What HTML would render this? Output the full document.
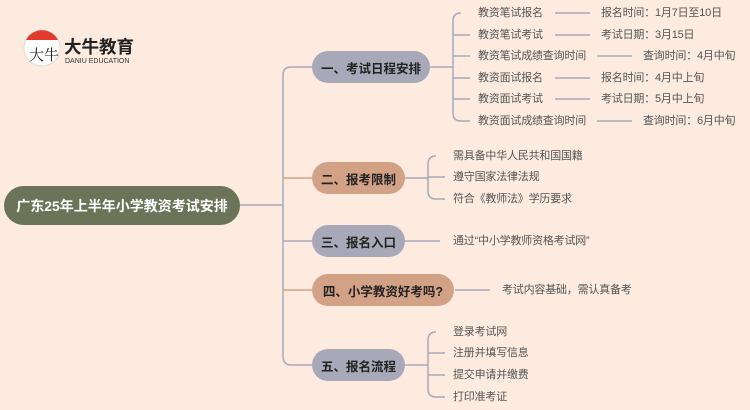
<!DOCTYPE html>
<html><head><meta charset="utf-8"><style>
body{margin:0;width:750px;height:410px;overflow:hidden;background:#fdebdf;font-family:"Liberation Sans","Noto Sans CJK SC",sans-serif}
svg{position:absolute;left:0;top:0}
.n{position:absolute;border-radius:17px;font-weight:bold;font-size:12.5px;color:#222;display:flex;align-items:center;justify-content:center}
.t{position:absolute;font-size:11px;letter-spacing:-0.2px;color:#555;line-height:14px;white-space:nowrap}
</style></head><body>
<svg width="750" height="410">
<g fill="none" stroke-width="1.5">
<path d="M240 205H283" stroke="#a9a9bb"/>
<path d="M283 75Q283 67 291 67H312" stroke="#a9a9bb"/>
<path d="M283 75V356Q283 365 291 365H312" stroke="#a9a9bb"/>
<path d="M283 178H312" stroke="#d3a287"/>
<path d="M283 241H312" stroke="#a9a9bb"/>
<path d="M283 290H312" stroke="#d3a287"/>
<g stroke="#a9a9bb">
<path d="M430 67H453M461 13Q453 13 453 21V113Q453 121 461 121H470M453 35H470M453 56H470M453 78H470M453 99H470"/>
<path d="M555 13H590M555 35H590M555 78H590M555 99H590M597 56H632M597 121H632"/>
<path d="M405 178H428M436 156Q428 156 428 164V191Q428 199 436 199H445M428 177H445"/>
<path d="M405 241H440"/>
<path d="M455 290H490"/>
<path d="M405 365H428M436 332Q428 332 428 340V389Q428 397 436 397H445M428 353H445M428 375H445"/>
</g></g>
<circle cx="42" cy="48" r="18" fill="#fff" stroke="#ddd"/>
<path d="M26 40A18 18 0 0 1 58 40Z" fill="#e23b2e"/>
<text x="29" y="60" font-size="15" font-family="Liberation Serif,Noto Serif CJK SC,serif" fill="#222">大牛</text>
<text x="64" y="53" font-size="17.5" font-weight="bold" fill="#222" font-family="Liberation Sans,Noto Sans CJK SC,sans-serif">大牛教育</text>
<text x="65" y="63" font-size="7" fill="#333" font-family="Liberation Sans,sans-serif">DANIU EDUCATION</text>
</svg>
<div class="n" style="left:4px;top:186px;width:236px;height:39px;border-radius:20px;background:#6b7459;color:#fff;font-size:14px">广东25年上半年小学教资考试安排</div>
<div class="n" style="left:312px;top:51px;width:118px;height:32px;background:#a8a8b9">一、考试日程安排</div>
<div class="n" style="left:312px;top:162px;width:93px;height:32px;background:#d3a286">二、报考限制</div>
<div class="n" style="left:312px;top:225px;width:93px;height:32px;background:#a8a8b9">三、报名入口</div>
<div class="n" style="left:312px;top:274px;width:142px;height:32px;background:#d3a286">四、小学教资好考吗?</div>
<div class="n" style="left:312px;top:349px;width:93px;height:32px;background:#a8a8b9">五、报名流程</div>
<div class="t" style="left:478px;top:6px">教资笔试报名</div>
<div class="t" style="left:478px;top:28px">教资笔试考试</div>
<div class="t" style="left:478px;top:49px">教资笔试成绩查询时间</div>
<div class="t" style="left:478px;top:71px">教资面试报名</div>
<div class="t" style="left:478px;top:92px">教资面试考试</div>
<div class="t" style="left:478px;top:114px">教资面试成绩查询时间</div>
<div class="t" style="left:601px;top:6px">报名时间：1月7日至10日</div>
<div class="t" style="left:601px;top:28px">考试日期：3月15日</div>
<div class="t" style="left:643px;top:49px">查询时间：4月中旬</div>
<div class="t" style="left:601px;top:71px">报名时间：4月中上旬</div>
<div class="t" style="left:601px;top:92px">考试日期：5月中上旬</div>
<div class="t" style="left:643px;top:114px">查询时间：6月中旬</div>
<div class="t" style="left:453px;top:149px">需具备中华人民共和国国籍</div>
<div class="t" style="left:453px;top:170px">遵守国家法律法规</div>
<div class="t" style="left:453px;top:192px">符合《教师法》学历要求</div>
<div class="t" style="left:453px;top:234px">通过“中小学教师资格考试网”</div>
<div class="t" style="left:502px;top:283px">考试内容基础，需认真备考</div>
<div class="t" style="left:453px;top:325px">登录考试网</div>
<div class="t" style="left:453px;top:346px">注册并填写信息</div>
<div class="t" style="left:453px;top:368px">提交申请并缴费</div>
<div class="t" style="left:453px;top:390px">打印准考证</div>
</body></html>
